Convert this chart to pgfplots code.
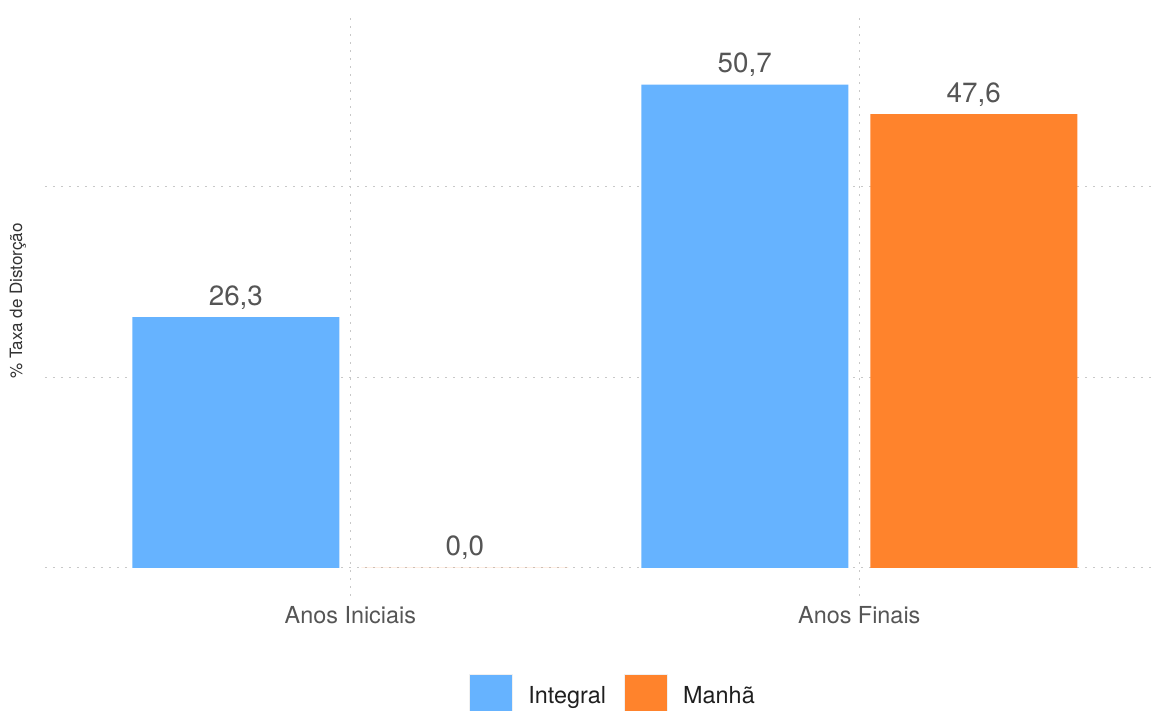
\documentclass[border=0pt]{standalone}
\usepackage{pgfplots}
\pgfplotsset{compat=1.18}
\usepackage{fontspec}
\setmainfont{TeX Gyre Heros}
\definecolor{cInt}{RGB}{102,179,255}
\definecolor{cMan}{RGB}{255,131,44}
\definecolor{gridc}{RGB}{200,200,200}
\definecolor{txt}{RGB}{85,85,85}
\definecolor{ylab}{RGB}{51,51,51}
\begin{document}
\begin{tikzpicture}
\useasboundingbox (-22.5pt,-57.5pt) rectangle (556pt,298pt);
\begin{axis}[
  at={(0pt,0pt)}, anchor=south west,
  scale only axis, width=556pt, height=291.5pt,
  xmin=0.4, xmax=2.585, ymin=-2.94, ymax=58.2,
  axis line style={draw=none},
  major tick length=0pt,
  xtick={1,2}, xticklabels={Anos Iniciais, Anos Finais},
  ytick={0,20,40}, yticklabels={},
  xmajorgrids, ymajorgrids,
  grid style={gridc, line width=0.5pt, dash pattern=on 1pt off 3pt},
  xticklabel style={anchor=base, yshift=-14pt, font=\fontsize{11.7}{14}\selectfont, text=txt},
  ylabel={\% Taxa de Distorção},
  ylabel style={at={(axis description cs:-0.0243,0.506)}, anchor=center, font=\fontsize{8.5}{10}\selectfont, text=ylab},
  ybar, bar width=0.4067,
  nodes near coords,
  nodes near coords style={anchor=base, yshift=6pt, text=txt, font=\fontsize{13.9}{16}\selectfont},
  /pgf/number format/fixed, /pgf/number format/fixed zerofill, /pgf/number format/precision=1, /pgf/number format/use comma,
  /pgf/number format/assume math mode=true,
  legend style={at={(0.5117,-0.1715)}, anchor=center, draw=none, fill=none, legend columns=2,
    font=\fontsize{11.7}{14}\selectfont, text=black!88,
    /tikz/every odd column/.append style={column sep=5.5pt},
    /tikz/every even column/.append style={column sep=7pt}},
  legend image code/.code={\fill[#1] (0pt,-10.75pt) rectangle (21.5pt,10.75pt);
    \path[draw=gray!12, fill=none, line width=0.6pt] (0pt,-10.75pt) rectangle (21.5pt,10.75pt);},
]
\addplot[fill=cInt, draw=none, bar shift=-0.225] coordinates {(1,26.3) (2,50.7)};
\addplot[fill=cMan, draw=none, bar shift=0.225] coordinates {(1,0) (2,47.6)};
\legend{Integral, Manhã}
\end{axis}
\end{tikzpicture}
\end{document}
